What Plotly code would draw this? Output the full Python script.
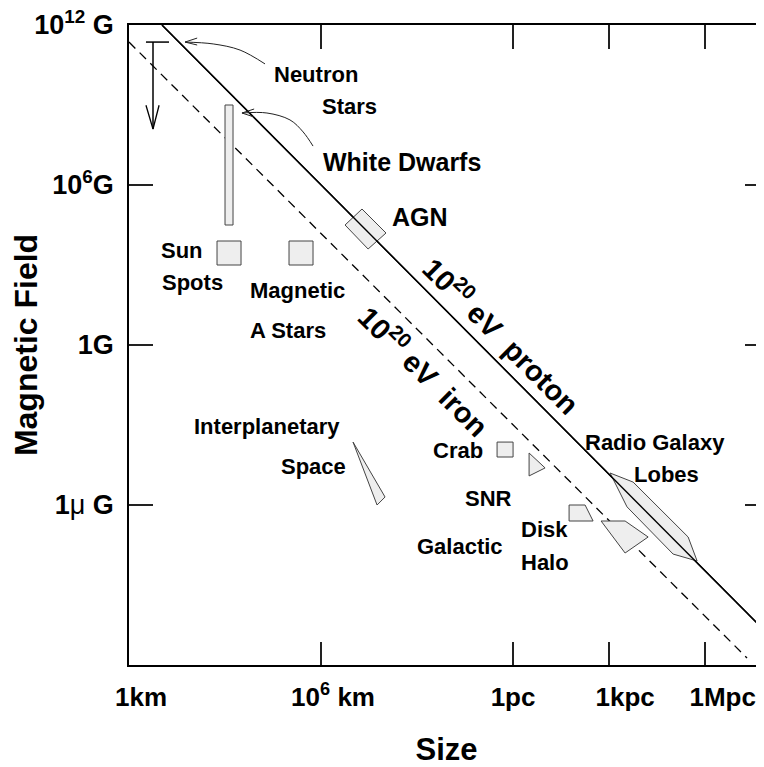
import plotly.graph_objects as go

# ---------------- data (x: decades of size in km as drawn, y: log10 B[G]) -------------
x_tick_vals = [0, 6, 12, 15, 18]
x_top_ticks = [6, 12, 15, 18]
x_label_pos = [0.375, 6.375, 12.0, 15.5, 18.55]
x_tick_text = ["1km", "10<sup>6</sup> km", "1pc", "1kpc", "1Mpc"]

y_tick_vals = [12, 6, 0, -6]
y_right_ticks = [6, 0, -6]
y_tick_text = ["10<sup>12</sup> G", "10<sup>6</sup>G", "1G",
               "1<span style='font-weight:normal'>μ</span> G"]

x_range = [0, 19.84]
y_range = [-12, 12]

# Hillas lines
proton_x = [1.03, 19.84]
proton_y = [12.0, -10.69]
iron_x = [0.0, 19.31]
iron_y = [11.36, -11.74]

# neutron star upper limit symbol
ns_bar_x = [0.53, 1.25]
ns_bar_y = [11.36, 11.36]
ns_stem_x = [0.75, 0.75]
ns_stem_y = [11.36, 8.1]
ns_head_x = [0.53, 0.75, 0.94]
ns_head_y = [8.99, 8.1, 8.99]

# pointer curves
ns_arrow_x = [4.25, 3.47, 2.63, 1.75]
ns_arrow_y = [10.54, 11.06, 11.29, 11.36]
ns_barb_x = [2.13, 1.75, 2.13]
ns_barb_y = [11.51, 11.36, 11.25]
wd_arrow_x = [5.75, 5.44, 5.03, 4.31, 3.53]
wd_arrow_y = [7.46, 7.99, 8.44, 8.70, 8.70]
wd_barb_x = [3.91, 3.53, 3.91]
wd_barb_y = [8.85, 8.70, 8.55]

# source regions (polygons)
white_dwarf_x = [3.0, 3.25, 3.25, 3.0]
white_dwarf_y = [9.0, 9.0, 4.5, 4.5]
sun_spots_x = [2.75, 3.5, 3.5, 2.75]
sun_spots_y = [3.9, 3.9, 3.0, 3.0]
a_stars_x = [5.0, 5.75, 5.75, 5.0]
a_stars_y = [3.9, 3.9, 3.0, 3.0]
agn_x = [6.75, 7.28, 8.03, 7.47]
agn_y = [4.5, 5.1, 4.2, 3.6]
interplanetary_x = [7.0, 8.0, 7.75]
interplanetary_y = [-3.64, -5.7, -6.0]
crab_x = [11.5, 12.0, 12.0, 11.5]
crab_y = [-3.64, -3.64, -4.2, -4.2]
snr_x = [12.5, 13.0, 12.5]
snr_y = [-4.05, -4.61, -4.91]
disk_x = [13.75, 14.25, 14.5, 13.75]
disk_y = [-6.0, -6.0, -6.6, -6.6]
halo_x = [14.75, 15.5, 16.22, 15.5]
halo_y = [-6.6, -6.6, -7.2, -7.8]
lobes_x = [15.03, 15.75, 17.47, 17.75, 17.0, 15.56]
lobes_y = [-4.8, -5.14, -7.2, -8.1, -7.84, -6.07]

# text labels
label_text = ["Neutron", "Stars", "White Dwarfs", "AGN", "Sun", "Spots",
              "Magnetic", "A Stars", "Interplanetary", "Space", "Crab", "SNR",
              "Galactic", "Disk", "Halo", "Radio Galaxy", "Lobes"]
label_x = [5.84, 6.875, 8.53, 9.09, 1.66, 1.97, 5.25, 4.97, 4.31, 5.78,
           10.28, 11.22, 10.34, 12.97, 13.0, 16.44, 16.78]
label_y = [10.16, 8.93, 6.86, 4.8, 3.53, 2.33, 2.06, 0.56, -3.07, -4.57,
           -3.97, -5.74, -7.54, -6.9, -8.14, -3.67, -4.87]
label_size = [22, 22, 25, 25, 22, 22, 22, 22, 22, 22, 22, 22, 22, 22, 22, 22, 22]

line_labels = ["10<sup>20</sup> eV\u00a0\u00a0proton", "10<sup>20</sup> eV\u00a0\u00a0iron"]
line_label_x = [11.66, 9.22]
line_label_y = [0.375, -0.94]

# ---------------- figure -------------
FONT = "Liberation Sans, Arial, Helvetica, sans-serif"
fig = go.Figure()

def line(x, y, width=1.3, dash="solid", color="black"):
    fig.add_trace(go.Scatter(x=x, y=y, mode="lines",
                             line=dict(color=color, width=width, dash=dash),
                             hoverinfo="skip", showlegend=False))

def poly(x, y):
    fig.add_trace(go.Scatter(x=x + [x[0]], y=y + [y[0]], mode="lines",
                             fill="toself", fillcolor="#eeeeee",
                             line=dict(color="#444444", width=1),
                             hoverinfo="skip", showlegend=False))

# empty traces so the overlay axes (top ticks, right ticks, bottom labels) are drawn
for xa, ya in [("x2", "y"), ("x3", "y"), ("x", "y2")]:
    fig.add_trace(go.Scatter(x=[None], y=[None], xaxis=xa, yaxis=ya, mode="lines",
                             hoverinfo="skip", showlegend=False))

line(proton_x, proton_y, 1.4)
line(iron_x, iron_y, 1.3, dash="9px,6px")

for px, py in [(white_dwarf_x, white_dwarf_y), (sun_spots_x, sun_spots_y),
               (a_stars_x, a_stars_y), (agn_x, agn_y),
               (interplanetary_x, interplanetary_y), (crab_x, crab_y),
               (snr_x, snr_y), (disk_x, disk_y), (halo_x, halo_y),
               (lobes_x, lobes_y)]:
    poly(px, py)

# redraw proton line over lobes
line(proton_x, proton_y, 1.4)

line(ns_bar_x, ns_bar_y, 1.5)
line(ns_stem_x, ns_stem_y, 1.5)
line(ns_head_x, ns_head_y, 1.3)
fig.add_trace(go.Scatter(x=ns_arrow_x, y=ns_arrow_y, mode="lines",
                         line=dict(color="#222", width=1, shape="spline"),
                         hoverinfo="skip", showlegend=False))
line(ns_barb_x, ns_barb_y, 1, color="#222")
fig.add_trace(go.Scatter(x=wd_arrow_x, y=wd_arrow_y, mode="lines",
                         line=dict(color="#222", width=1, shape="spline"),
                         hoverinfo="skip", showlegend=False))
line(wd_barb_x, wd_barb_y, 1, color="#222")

for t, x, y, s in zip(label_text, label_x, label_y, label_size):
    fig.add_annotation(x=x, y=y, xref="x", yref="y", text=t, showarrow=False,
                       xanchor="center", yanchor="middle",
                       font=dict(family=FONT, size=s, color="black", weight="bold"))

for t, x, y in zip(line_labels, line_label_x, line_label_y):
    fig.add_annotation(x=x, y=y, xref="x", yref="y", text=t, showarrow=False,
                       textangle=45, xanchor="center", yanchor="middle",
                       font=dict(family=FONT, size=29, color="black", weight="bold"))

axis_common = dict(showgrid=False, zeroline=False, linecolor="black",
                   tickcolor="#222", tickwidth=1.5)

# page body has an 8px margin: shrink figure and margins by 8px to compensate
fig.update_layout(
    width=756, height=759,
    margin=dict(l=121, r=0, t=17, b=102, autoexpand=False),
    paper_bgcolor="white", plot_bgcolor="white",
    showlegend=False,
    xaxis=dict(range=x_range, tickvals=x_tick_vals, ticks="inside", ticklen=23,
               showticklabels=False, showline=True, linewidth=1.5, **axis_common),
    xaxis2=dict(range=x_range, overlaying="x", side="top", anchor="y",
                tickvals=x_top_ticks, ticks="inside", ticklen=24,
                showticklabels=False, showline=True, linewidth=1.5, **axis_common),
    xaxis3=dict(range=x_range, overlaying="x", side="bottom", anchor="y",
                tickvals=x_label_pos, ticktext=x_tick_text, ticks="",
                showline=False, ticklabelstandoff=14, ticklabeloverflow="allow",
                tickfont=dict(family=FONT, size=26, color="black", weight="bold"),
                title=dict(text="Size", standoff=28,
                           font=dict(family=FONT, size=31, color="black", weight="bold")),
                showgrid=False, zeroline=False),
    yaxis=dict(range=y_range, tickvals=y_tick_vals, ticktext=y_tick_text,
               ticks="inside", ticklen=24, showline=True, linewidth=1.5,
               ticklabelstandoff=8, ticklabeloverflow="allow",
               tickfont=dict(family=FONT, size=27, color="black", weight="bold"),
               title=dict(text="Magnetic Field", standoff=4,
                          font=dict(family=FONT, size=32, color="black", weight="bold")),
               **axis_common),
    yaxis2=dict(range=y_range, overlaying="y", side="right", anchor="x",
                tickvals=y_right_ticks, ticks="inside", ticklen=19,
                showticklabels=False, showline=False, **axis_common),
)

fig.write_html("out.html")
